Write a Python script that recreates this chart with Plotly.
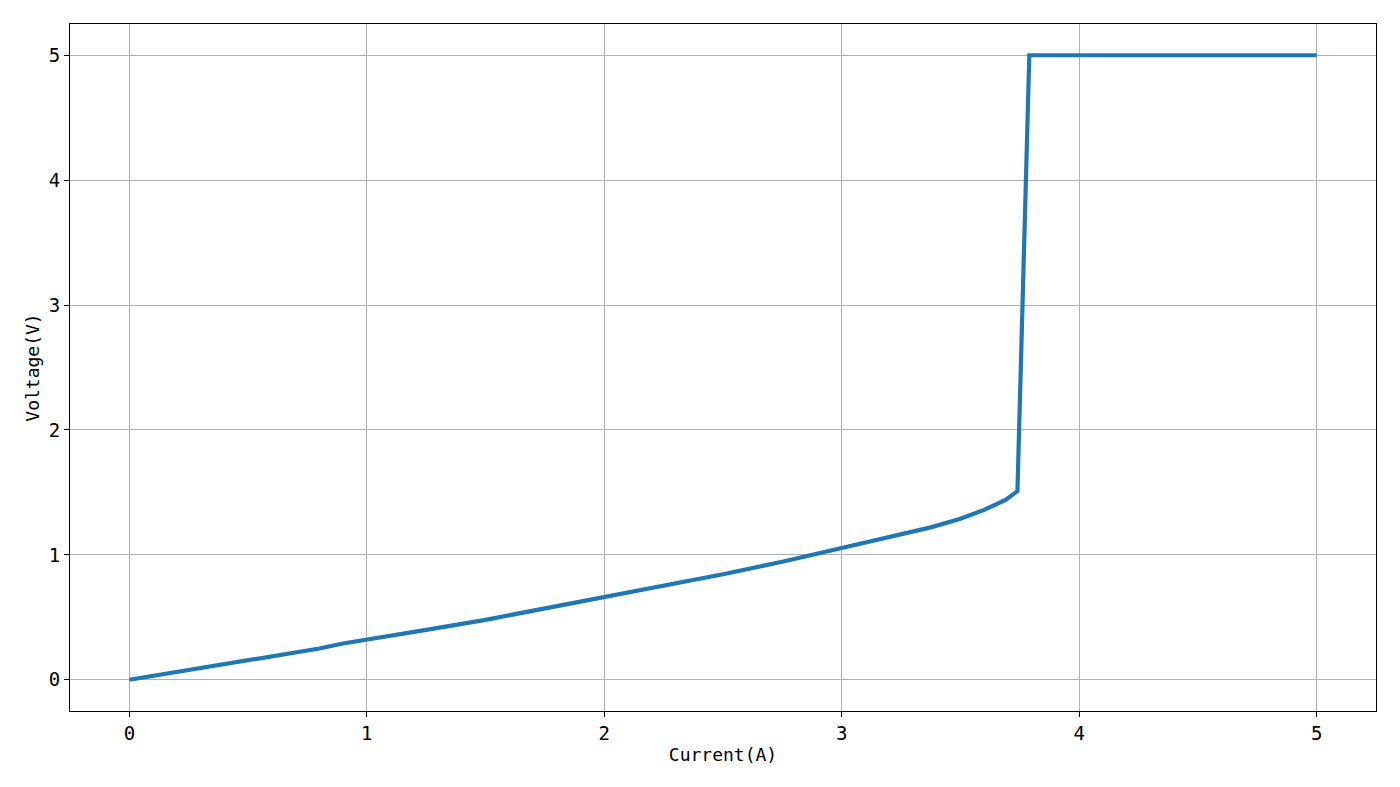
import plotly.graph_objects as go

# current (A) vs voltage (V)
current = [0.0, 0.2, 0.4, 0.6, 0.8, 0.9, 1.0, 1.25, 1.5, 1.75, 2.0, 2.25, 2.5,
           2.75, 3.0, 3.125, 3.25, 3.375, 3.5, 3.6, 3.69, 3.74, 3.79, 5.0]
voltage = [0.0, 0.062, 0.125, 0.188, 0.25, 0.29, 0.32, 0.40, 0.48, 0.57, 0.66,
           0.75, 0.845, 0.945, 1.055, 1.105, 1.16, 1.22, 1.29, 1.36, 1.44, 1.51, 5.0, 5.0]

x_ticks = [0, 1, 2, 3, 4, 5]
y_ticks = [0, 1, 2, 3, 4, 5]

FONT = "DejaVu Sans Mono, Noto Sans CJK SC, monospace"

fig = go.Figure()
fig.add_trace(go.Scatter(
    x=current, y=voltage, mode="lines",
    line=dict(color="#1f77b4", width=4.2),
    showlegend=False,
))

axis_common = dict(
    showline=True, linecolor="black", linewidth=1, mirror=True,
    ticks="outside", ticklen=5, tickcolor="black",
    showgrid=True, gridcolor="#b0b0b0", gridwidth=1,
    zeroline=False,
    tickfont=dict(size=19, color="black", family=FONT),
)

fig.update_xaxes(range=[-0.25, 5.25], tickvals=x_ticks,
                 title=dict(text="Current(A)", font=dict(size=18, color="black", family=FONT), standoff=5),
                 **axis_common)
fig.update_yaxes(range=[-0.25, 5.25], tickvals=y_ticks,
                 title=dict(text="Voltage(V)", font=dict(size=18, color="black", family=FONT), standoff=4),
                 **axis_common)

# page body has an 8px margin, so shift plot box to line up with the reference
fig.update_layout(
    width=1400, height=787,
    margin=dict(l=62, r=32, t=16, b=84),
    plot_bgcolor="white", paper_bgcolor="white",
    font=dict(family=FONT, color="black"),
)

fig.write_html("out.html")
